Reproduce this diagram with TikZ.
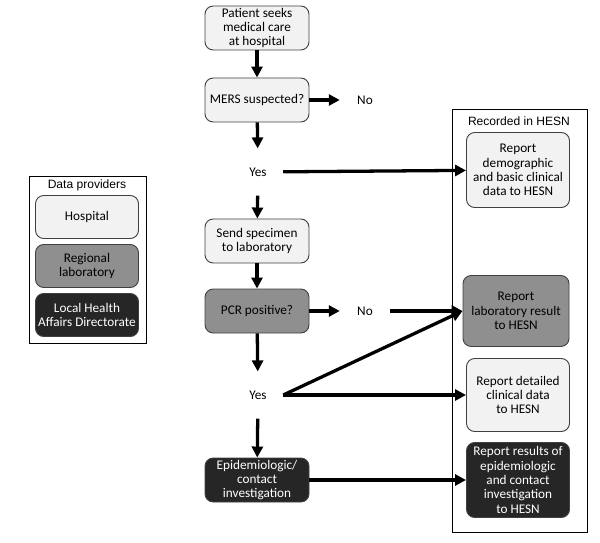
\documentclass[tikz,border=0pt]{standalone}
\usepackage{fontspec}
\setmainfont{Carlito}
\newfontfamily\titlefont{Liberation Sans}
\usepackage{xcolor}
\usepackage{tikz}
\usetikzlibrary{arrows.meta}

\definecolor{lightfill}{HTML}{F2F2F2}
\definecolor{midfill}{HTML}{8F8F8F}
\definecolor{darkfill}{HTML}{262626}
\definecolor{edge}{HTML}{404040}

\begin{document}
\begin{tikzpicture}[
    x=0.03cm, y=-0.03cm,
    box/.style={rectangle, rounded corners=7pt, draw=edge, line width=0.8pt, minimum width=3.12cm, minimum height=1.32cm, align=center, inner sep=1pt, font=\fontsize{11.3}{12.2}\selectfont},
    hesnbox/.style={box, minimum width=3.09cm, minimum height=2.25cm},
    provbox/.style={box, minimum width=3.09cm, minimum height=1.29cm},
    light/.style={fill=lightfill},
    mid/.style={fill=midfill},
    dark/.style={fill=darkfill, text=white},
    answer/.style={minimum width=1.5cm, minimum height=1.4cm, inner sep=0pt, font=\fontsize{11.3}{12.2}\selectfont},
    frame/.style={draw=black, line width=0.8pt},
    arrow/.style={-{Triangle[length=3.3mm,width=3.3mm]}, line width=2.8pt}
]
    \useasboundingbox (0,0) rectangle (600,542);

    % Main flow
    \node[box, light] (patient) at (257,28) {Patient seeks\\medical care\\at hospital};
    \node[box, light] (mers) at (257,100) {MERS suspected?};
    \node[answer] (no1) at (365,100) {No};
    \node[answer] (yes1) at (258,172) {Yes};
    \node[box, light] (specimen) at (257,241) {Send specimen\\to laboratory};
    \node[box, mid] (pcr) at (257,311) {PCR positive?};
    \node[answer] (no2) at (365,311) {No};
    \node[answer] (yes2) at (258,395) {Yes};
    \node[box, dark] (epi) at (257,480) {Epidemiologic/\\contact\\investigation};

    % Recorded in HESN
    \draw[frame] (452,109) rectangle (587,532);
    \node[font=\titlefont\fontsize{10.3}{12}\selectfont] (hesn) at (519,121) {Recorded in HESN};
    \node[hesnbox, light] (demo) at (518,170) {Report\\demographic\\and basic clinical\\data to HESN};
    \node[hesnbox, mid, minimum width=3.18cm, minimum height=2.13cm] (labres) at (516,311) {Report\\laboratory result\\to HESN};
    \node[hesnbox, light, minimum height=2.19cm] (detail) at (518,395) {Report detailed\\clinical data\\to HESN};
    \node[hesnbox, dark] (epirep) at (518,480) {Report results of\\epidemiologic\\and contact\\investigation\\to HESN};

    % Data providers
    \draw[frame] (29,176) rectangle (146,343);
    \node[font=\titlefont\fontsize{10.3}{12}\selectfont] (prov) at (87,185) {Data providers};
    \node[provbox, light] (hosp) at (87,217) {Hospital};
    \node[provbox, mid] (reglab) at (87,266) {Regional\\laboratory};
    \node[provbox, dark] (lhad) at (87,315) {Local Health\\Affairs Directorate};

    % Arrows
    \draw[arrow] (patient) -- (mers);
    \draw[arrow] (mers) -- (no1);
    \draw[arrow] (mers) -- (yes1);
    \draw[arrow] (yes1) -- (demo);
    \draw[arrow] (yes1) -- (specimen);
    \draw[arrow] (specimen) -- (pcr);
    \draw[arrow] (pcr) -- (no2);
    \draw[arrow] (no2) -- (labres);
    \draw[arrow] (pcr) -- (yes2);
    \draw[arrow] (yes2.east) -- (labres.west);
    \draw[arrow] (yes2) -- (detail);
    \draw[arrow] (yes2) -- (epi);
    \draw[arrow] (epi) -- (epirep);
\end{tikzpicture}
\end{document}
